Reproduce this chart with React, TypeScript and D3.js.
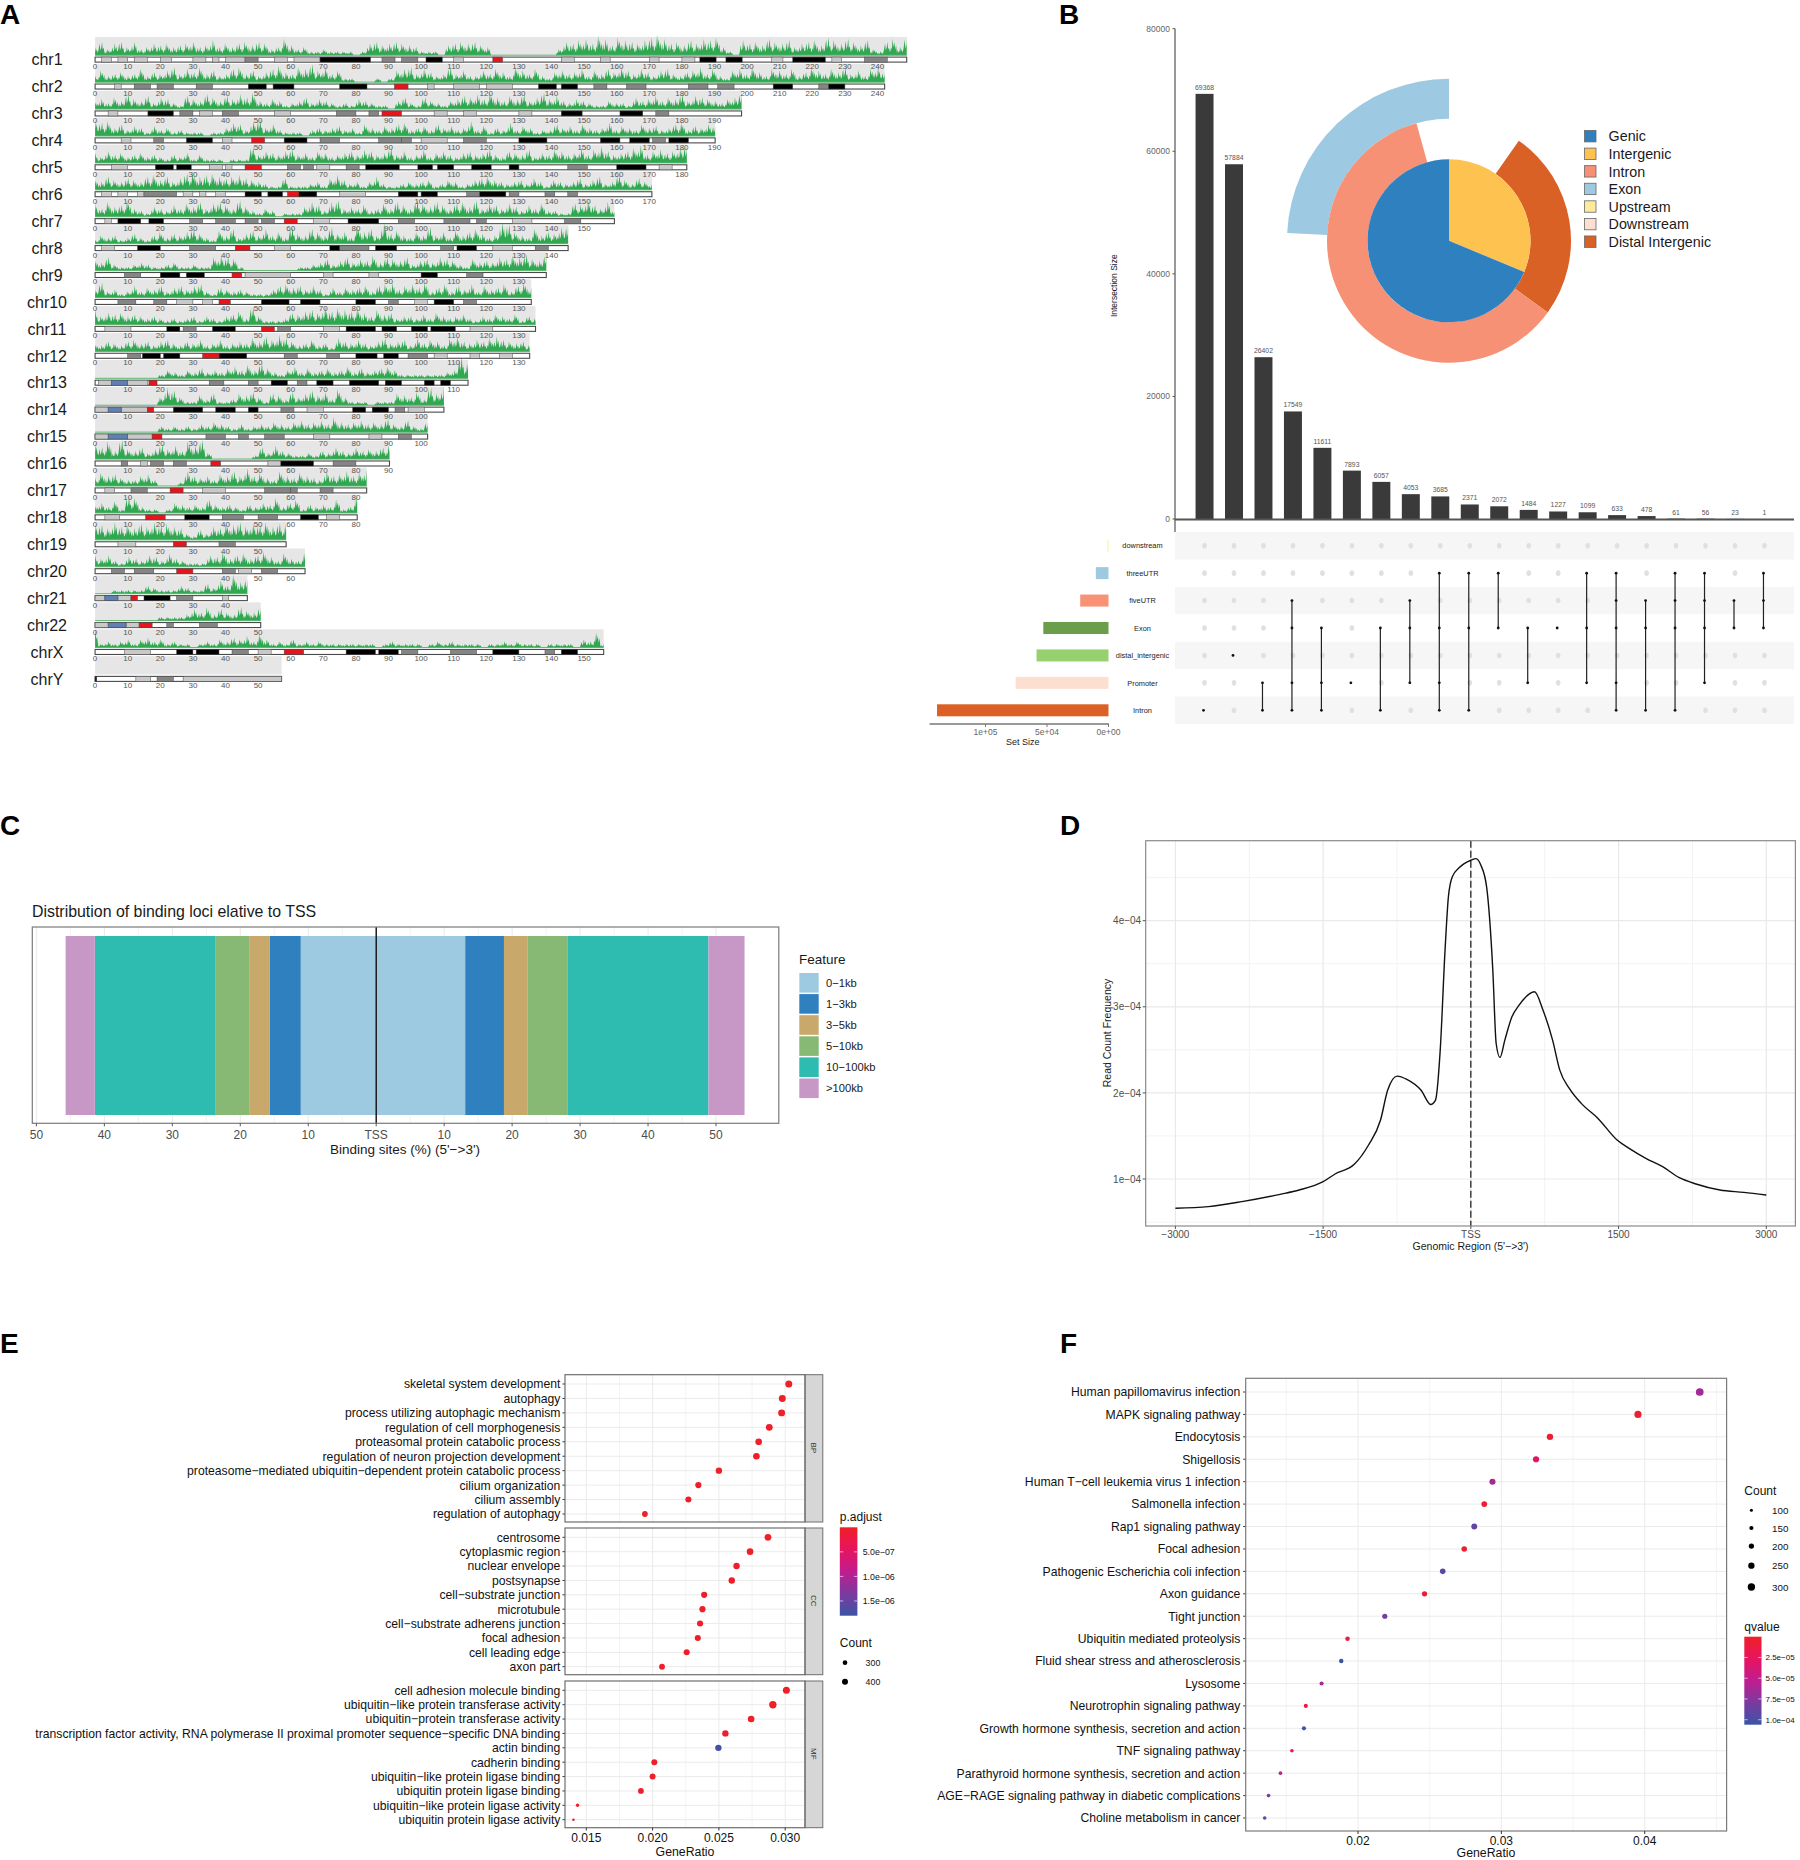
import React from 'react';
import * as d3 from 'd3';

const FONT = '"Liberation Sans", Arial, sans-serif';
const MINUS = '\u2212';

// ---- panel A: karyotype
const chromNames = ['chr1','chr2','chr3','chr4','chr5','chr6','chr7','chr8','chr9','chr10','chr11','chr12','chr13','chr14','chr15','chr16','chr17','chr18','chr19','chr20','chr21','chr22','chrX','chrY'];
const chromLengths = [248.96,242.19,198.3,190.2,181.5,170.8,159.3,145.1,138.4,133.8,135.1,133.3,114.4,107,102,90.3,83.3,80.4,58.6,64.4,46.7,50.8,156,57.2];

// flat start,end pairs in Mb, one list per chromosome
const blackBands = [
  [69,84.5,101.5,106.5,185.5,190.5,193.5,198.5,214,224],
  [47,52.5,54.6,61,75,83.4,136,141.5,143,148,208,214,225,230],
  [16.2,24,143,149.4,161,168],
  [28,36,58,65,130,138.6,155,161,164,170,176,182],
  [18.5,24,25,29.5,83,93.3,99,103.5,105,110,115.5,121.5,127,130,160,169],
  [46,51,53,57.5,62,68,93,99,100,105,118,126],
  [7,14,16.5,21,77.6,87],
  [13,20,72,75,86,92.5,111,117],
  [20,26,28,33.5,100,105],
  [51,59.5,63,69,80,86,104,110],
  [22,26,36,43,77,86,88,92.5,97,102,103,110.5],
  [14.5,20,21,26,38,46.5,80,86.5,88.5,93],
  [54,59,68,73,78,87,89,94,101,104,106,109],
  [24,33,37,43,47,50,79,83,85,90],
  [],
  [57,67],
  [],
  [27.5,35,63,68.5],
  [],
  [],
  [15,23],
  [],
  [25,30,31,38,77,86,87,93,122,130,143,148],
  [0,0.5],
];
const greyBands = [
  [46,50,88,92,94,99,236,243],
  [12,17,19,24,31,36,153,157,163,169,182,188,191,196,222,225],
  [26,30,39,44,74,80,84,87,172,176],
  [18,21,69,75,87,94,94,97,113,120,171,175],
  [59,63,64,67,77,81,145,151],
  [15,25,114,118,127,130,138,141,145,148],
  [29,33,37,43,46,50,51,55,93,98,107,115,117,120,144,149],
  [29,37,75,84,106,110,135,139],
  [9,14,114,119],
  [7,12.5,18,22,90,93,113,117],
  [27,31,56,60],
  [10,14,58,62,71,75,96,102],
  [35,39.5,47,50,62,65],
  [57,61,92,95],
  [34,40,44,47,52,58,93,97],
  [8,10,17,21,24,28,73,80],
  [11,16,52,60,60,62,69,73],
  [39,45.5,50,56],
  [38,43],
  [5,9,12,18,39,43,51,56],
  [25,30],
  [22,24,32,37.5],
  [42,47,94,99,109,117,138,141],
  [19,24],
];
const lightBands = [
  [2,5,7,10,12,16,20,23.5,30,34,36,38,40,46,55,59,61,69,110,113,143,147,155,158,170,173,180,184,207.5,211,226,229],
  [6,8,102,104,110,118,120,128],
  [4,7,32,36,55,60,104,108,113,117,130,134],
  [8,11,39,42,100,108],
  [5,10,35,39,40,42,68,72,173,177],
  [2,5,7,10,13,15,27,30,32,34,37,40,75,83],
  [3,5,67,72,128,134],
  [2,6,55,60,122,128],
  [46,60,70,73,84,87],
  [25,30,33,36,98,102],
  [3,11,70,75,115,122],
  [104,108,115,118,124,128],
  [1,5,10,16],
  [0,4,8,16,65,70,96,101],
  [0,4,10,17.5,67,72,84,88],
  [14,16,53,57],
  [3,6,33,40],
  [3,7.5,71,75],
  [7,12.5],
  [44,48],
  [0,3,7,11,39,41],
  [0,4,9.5,13.5],
  [9,17,50,54],
  [12.5,17,27,57.2],
];
const redBands = [[122,125],[91.8,96],[88,94],[48,52],[46,51],[59,62.5],[58,62],[43,47.5],[42,45],[38,41.5],[51,55],[33,38],[16.5,19],[16,18],[17.5,20.5],[35.5,38.5],[23,27],[15.5,21.5],[24,28],[25,30],[11,13],[13.5,17.5],[58,64],[]];
const blueBands = [[],[],[],[],[],[],[],[],[],[],[],[],[5,10],[4,8],[4,10],[],[],[],[],[],[3,7],[4,9.5],[],[]];

// peak density per chromosome, read along the track (10 = top of the grey strip)
const peakHeights = [
  [3,6,2,5,6,3,6,2,3,5,4,5,3,4,5,6,3,4,7,3,5,3,5,6,4,6,5,2,3,8,4,2,3,1,1,2,1,1,1,1,0,1,5,6,4,5,6,5,4,3,1,1,1,0,4,5,6,5,6,4,3,0,0,0,0,0,0,0,0,0,0,2,6,5,7,8,5,10,8,4,9,7,6,5,7,9,11,8,5,6,4,7,5,8,7,9,3,1,0,7,5,6,4,8,6,5,7,3,5,6,7,4,9,7,5,8,6,4,7,2,1,6,8,3,9],
  [2,5,2,3,4,2,3,6,2,4,3,5,7,3,6,4,7,3,5,2,3,6,7,3,5,2,4,6,8,4,3,7,6,9,5,7,3,5,1,1,0,0,0,1,0,1,5,6,7,3,6,4,2,3,7,3,5,2,2,5,3,6,4,2,7,5,3,6,2,1,4,5,3,4,6,2,5,3,6,4,7,5,3,6,4,2,5,6,3,2,4,5,7,3,6,2,1,5,6,3,7,4,2,6,5,3,6,2,4,7,5,3,6,4,7,3,5,2,6,7,4],
  [3,4,2,5,3,7,4,3,6,2,5,4,2,1,6,4,3,7,5,3,6,4,7,5,8,3,2,4,3,1,2,3,5,2,4,3,2,1,2,1,4,3,2,1,1,0,3,5,2,1,5,3,2,1,3,4,6,5,7,4,8,5,3,6,4,7,3,5,8,4,6,3,2,4,3,2,1,1,3,2,2,1,5,3,4,6,3,5,4,7,3,6,5,4,3,2,4,5,8],
  [8,6,7,3,5,2,4,3,1,4,2,3,1,2,1,1,1,0,1,1,3,6,5,2,7,8,3,5,2,1,1,1,0,2,3,2,3,4,2,3,1,5,3,2,4,3,5,6,2,3,4,2,5,3,4,2,3,7,2,4,1,3,2,6,2,4,3,1,2,2,5,3,4,2,5,3,2,3,6,2,4,3,2,5,3,4,2,3,5,6,2,4,3,5,4],
  [4,2,5,3,4,2,3,4,2,3,2,1,3,2,4,1,3,1,1,1,0,1,1,1,8,3,5,4,3,5,6,3,4,2,5,4,2,3,4,5,3,6,5,3,4,7,3,5,2,3,6,2,4,5,3,2,4,5,3,4,6,3,2,5,4,3,6,2,4,3,6,5,3,4,7,3,6,8,5,3,4,5,7,9,3,5,6,4,5,7,9],
  [5,3,6,4,3,5,4,3,6,7,4,6,3,5,8,9,6,7,8,6,5,6,7,5,4,3,2,1,1,5,1,1,1,2,3,1,5,7,4,2,3,1,3,6,2,1,1,2,3,2,3,4,1,2,4,3,1,2,4,5,6,4,3,2,3,4,2,5,3,1,4,3,2,3,5,2,4,6,2,3,7,4,2,5,3,2],
  [6,3,7,4,5,8,3,2,1,4,3,2,5,3,6,4,7,3,6,7,5,3,8,4,2,1,3,2,0,1,1,1,4,7,5,2,7,8,3,4,3,5,2,3,6,3,7,5,3,8,6,4,7,5,3,6,7,4,8,3,6,5,3,6,4,2,5,3,6,2,2,1,1,6,5,8,5,3,7,2],
  [1,3,2,3,1,2,4,2,1,3,5,2,4,3,5,7,4,2,1,6,3,7,2,4,6,3,7,3,5,2,8,4,3,7,5,3,8,4,5,2,9,5,7,3,11,4,6,3,2,5,3,8,3,5,2,6,3,5,7,4,2,3,12,10,5,3,2,7,3,5,4,8,9],
  [5,3,6,2,1,1,2,3,2,1,1,2,3,1,1,2,1,1,6,7,6,5,1,0,0,0,0,0,0,0,0,1,1,2,3,5,2,4,6,3,5,4,7,3,6,5,4,6,2,4,5,3,6,5,4,2,1,5,3,4,3,6,5,7,6,8,5,4,8],
  [3,7,2,3,1,2,5,2,4,3,5,2,4,5,3,5,6,2,1,4,3,2,3,2,1,1,1,3,5,6,4,5,3,5,3,1,4,2,4,3,4,5,2,5,6,7,3,5,6,4,7,2,4,6,2,5,3,6,2,5,3,4,6,2,5,7,4],
  [7,3,5,4,5,3,4,3,2,3,2,1,2,1,2,3,1,3,2,1,3,4,6,2,9,3,1,1,1,2,5,4,6,7,5,9,6,8,7,6,8,5,3,7,4,5,2,3,3,2,4,2,5,3,2,3,4,2,1,3,2,4,3,2,4,1,3,2],
  [3,2,4,3,2,4,5,3,4,2,4,5,3,2,4,3,5,2,3,5,2,3,4,3,6,4,7,5,8,6,4,2,3,5,2,3,1,6,4,3,5,3,2,4,6,3,4,5,2,6,3,5,4,2,6,7,4,3,5,4,6,7,5,4,3,4,2],
  [0,0,0,0,0,0,0,0,0,0,1,3,2,1,3,2,4,2,3,2,4,5,3,6,3,7,4,2,1,3,5,2,4,2,3,4,2,3,5,2,4,2,3,4,5,3,1,1,1,1,1,1,1,2,3,12,7],
  [0,0,0,0,0,0,0,0,0,0,3,9,7,3,1,1,4,2,5,1,1,2,5,4,6,3,1,5,4,2,6,3,5,7,4,6,2,8,3,1,1,1,0,1,1,1,5,4,3,6,2,9,5,10],
  [0,0,0,0,0,0,0,0,0,0,2,1,2,1,2,1,3,2,4,3,2,1,3,1,2,3,2,4,3,2,4,5,3,4,5,3,7,4,3,4,5,3,4,3,6,3,2,5,2,1,4],
  [8,5,9,3,10,4,3,5,2,4,7,4,6,3,9,6,10,2,0,0,0,0,0,0,1,5,2,6,3,2,1,1,2,1,3,2,5,3,2,5,3,4,3,5,6],
  [3,6,4,5,3,2,2,4,5,2,0,0,0,1,7,4,3,4,2,5,4,7,4,9,4,6,3,2,7,4,3,6,4,3,2,7,4,5,7,4,6,8],
  [3,4,2,5,1,8,7,2,1,1,0,1,4,3,2,3,2,6,3,2,3,2,1,3,2,4,3,7,2,4,6,1,3,2,3,2,6,1,2,8],
  [8,7,5,9,6,7,5,8,6,9,7,8,6,5,2,1,4,2,6,5,8,7,9,6,8,7,9,6,8,7],
  [5,3,5,2,1,4,3,2,5,4,2,6,3,2,1,1,1,5,4,7,3,5,6,3,5,7,4,2,6,3,2,6],
  [0,0,0,1,1,1,1,1,3,2,1,1,1,3,2,1,1,4,2,6,3,10,5,7],
  [0,0,0,0,0,0,0,0,0,0,1,1,1,1,2,5,3,6,2,5,3,2,6,4,3,6],
  [10,1,2,1,2,3,1,3,4,2,3,1,2,1,1,0,1,2,1,3,2,4,3,5,2,6,3,1,2,1,3,1,2,1,2,1,1,1,1,1,1,1,1,0,1,2,1,1,1,1,0,1,2,1,2,1,1,1,1,0,1,1,2,1,2,1,1,1,0,1,1,1,1,0,3,2,7,1],
  [],
];

// ---- panel B: upset
const setNames = ['downstream','threeUTR','fiveUTR','Exon','distal_intergenic','Promoter','Intron'];
const setSizes = [1000,10300,23000,53000,58500,75500,139400];
const setColors = ['#fbf3a4','#9ecae1','#f89274','#6a9e4a','#98cf6f','#fddfd2','#dc6026'];
const intersectionSizes = [69368,57884,26402,17549,11611,7893,6057,4053,3685,2371,2072,1484,1227,1099,633,478,61,56,23,1];
const intersectionMembers = [[6],[4],[5,6],[2,3,5,6],[3,5,6],[5],[3,6],[2,3,5],[1,3,5,6],[1,3,6],[1,3],[3,5],[3],[1,3,5],[1,2,3,5,6],[2,3,6],[1,2,3,6],[1,2,3,5],[2,3],[1,2,3]];
const intersectionTicks = [0,20000,40000,60000,80000];
const setSizeTicks = [0,50000,100000];
const setSizeTickLabels = ['0e+00','5e+04','1e+05'];

// nested pie, percent of a full turn clockwise from 12 o'clock
const innerSlices = [{ name: 'Intergenic', from: 0, to: 31.3, color: '#fdc24f' }, { name: 'Genic', from: 31.3, to: 100, color: '#2f80bf' }];
const middleSlices = [{ name: 'Distal Intergenic', from: 9.7, to: 35, color: '#da6126' }, { name: 'Intron', from: 35, to: 95.7, color: '#f69176' }];
const outerSlices = [{ name: 'Exon', from: 75.75, to: 100, color: '#9dcae2' }];
const annotationNames = ['Genic','Intergenic','Intron','Exon','Upstream','Downstream','Distal Intergenic'];
const annotationColors = ['#2f80bf','#fdc24f','#f69176','#9dcae2','#fbeb9b','#fddfd2','#da6126'];

// ---- panel C: TSS distribution
const featureNames = ['0\u22121kb','1\u22123kb','3\u22125kb','5\u221210kb','10\u2212100kb','>100kb'];
const featureColors = ['#9ecae1','#2f80bf','#c8a86b','#87b874','#2fbcb0','#c798c6'];
const upstreamShare = [11.1,4.6,3.0,5.0,17.7,4.3];
const downstreamShare = [13.1,5.7,3.5,5.9,20.7,5.3];
const percentTicks = [-50,-40,-30,-20,-10,0,10,20,30,40,50];

// ---- panel D: read count profile
const profileX = [-3000,-2665,-2325,-1937,-1743,-1500,-1379,-1184,-1039,-917,-845,-748,-650,-505,-408,-359,-311,-262,-228,-189,-117,0,53,102,160,223,257,296,345,417,490,646,733,830,903,1000,1121,1291,1485,1607,1777,1947,2117,2286,2529,2772,3000];
const profileY = [0.66,0.679,0.737,0.822,0.872,0.969,1.058,1.17,1.395,1.685,2.03,2.195,2.157,2.03,1.866,1.917,2.497,3.658,4.277,4.509,4.617,4.702,4.721,4.644,4.393,3.425,2.574,2.412,2.613,2.884,3.019,3.174,2.961,2.613,2.265,2.052,1.878,1.704,1.453,1.356,1.24,1.143,1.015,0.942,0.872,0.845,0.814];
const regionTicks = [-3000,-1500,0,1500,3000];
const regionMinorTicks = [-2250,-750,750,2250];
const freqTicks = [1,2,3,4];
const freqMinorTicks = [0.5,1.5,2.5,3.5,4.5];

// ---- panel E: GO enrichment
const bpTerms = ['skeletal system development','autophagy','process utilizing autophagic mechanism','regulation of cell morphogenesis','proteasomal protein catabolic process','regulation of neuron projection development','proteasome\u2212mediated ubiquitin\u2212dependent protein catabolic process','cilium organization','cilium assembly','regulation of autophagy'];
const bpRatio = [0.03027,0.02978,0.02973,0.0288,0.028,0.02783,0.025,0.02345,0.0227,0.01942];
const bpCount = [480,475,475,465,455,450,430,420,410,385];
const bpPadj = [1e-8,1e-8,1e-8,2e-8,1e-8,2e-8,1e-8,3e-8,3e-8,4e-8];
const ccTerms = ['centrosome','cytoplasmic region','nuclear envelope','postsynapse','cell\u2212substrate junction','microtubule','cell\u2212substrate adherens junction','focal adhesion','cell leading edge','axon part'];
const ccRatio = [0.0287,0.02735,0.02633,0.02597,0.02389,0.02376,0.02358,0.02341,0.02257,0.02071];
const ccCount = [460,450,440,435,415,415,410,410,405,390];
const ccPadj = [1e-8,2e-8,1e-8,2e-8,2e-8,2e-8,2e-8,2e-8,2e-8,3e-8];
const mfTerms = ['cell adhesion molecule binding','ubiquitin\u2212like protein transferase activity','ubiquitin\u2212protein transferase activity','transcription factor activity, RNA polymerase II proximal promoter sequence\u2212specific DNA binding','actin binding','cadherin binding','ubiquitin\u2212like protein ligase binding','ubiquitin protein ligase binding','ubiquitin\u2212like protein ligase activity','ubiquitin protein ligase activity'];
const mfRatio = [0.03009,0.02907,0.02743,0.02549,0.02496,0.02013,0.02,0.01912,0.01434,0.01403];
const mfCount = [480,510,450,430,430,400,395,385,200,138];
const mfPadj = [1e-8,1e-8,1e-8,2e-8,1.75e-6,3e-8,3e-8,3e-8,4e-8,4e-8];
const goTicks = [0.015,0.02,0.025,0.03];
const goMinorTicks = [0.0175,0.0225,0.0275];
const padjTicks = [5e-7,1e-6,1.5e-6];
const padjTickLabels = ['5.0e\u221207','1.0e\u221206','1.5e\u221206'];
const goCountLegend = [300,400];

// ---- panel F: KEGG enrichment
const keggTerms = ['Human papillomavirus infection','MAPK signaling pathway','Endocytosis','Shigellosis','Human T\u2212cell leukemia virus 1 infection','Salmonella infection','Rap1 signaling pathway','Focal adhesion','Pathogenic Escherichia coli infection','Axon guidance','Tight junction','Ubiquitin mediated proteolysis','Fluid shear stress and atherosclerosis','Lysosome','Neurotrophin signaling pathway','Growth hormone synthesis, secretion and action','TNF signaling pathway','Parathyroid hormone synthesis, secretion and action','AGE\u2212RAGE signaling pathway in diabetic complications','Choline metabolism in cancer'];
const keggRatio = [0.04384,0.03953,0.03339,0.03242,0.02938,0.02881,0.02811,0.02741,0.02591,0.02464,0.02187,0.01927,0.01883,0.01746,0.01636,0.01623,0.01539,0.01459,0.01376,0.01349];
const keggCount = [315,290,255,245,240,225,230,215,215,200,195,165,165,150,145,150,125,125,125,125];
const keggQ = [6.3e-5,0.4e-5,0.5e-5,3e-5,6.3e-5,0.6e-5,9e-5,0.4e-5,9.2e-5,0.8e-5,8.2e-5,1e-5,1.05e-4,6.3e-5,1.2e-5,1.05e-4,3e-5,4.8e-5,8.2e-5,9e-5];
const keggTicks = [0.02,0.03,0.04];
const keggMinorTicks = [0.015,0.025,0.035,0.045];
const qTicks = [2.5e-5,5e-5,7.5e-5,1e-4];
const qTickLabels = ['2.5e\u221205','5.0e\u221205','7.5e\u221205','1.0e\u221204'];
const keggCountLegend = [100,150,200,250,300];
const keggLegendY = [1510.3,1528,1546,1565.7,1587];

const panelLetters = [['A',0,24],['B',1059,24],['C',0,835],['D',1060,835],['E',0,1353],['F',1060,1353]] as const;

const rampColor = d3.scaleLinear<string>().domain([0,0.25,0.5,0.75,1]).range(['#ee2027','#e8135f','#bf1d90','#7c3a9f','#3b54a5']);
const rampStops = d3.range(0, 1.001, 0.1);

// one 2 Mb bin is drawn as a small cluster of spikes
const spikeShapes = [
  [[-0.5,0.14],[-0.36,0.55],[-0.25,0.18],[-0.1,0.3],[0,1],[0.12,0.32],[0.24,0.62],[0.36,0.2]],
  [[-0.5,0.2],[-0.3,0.8],[-0.2,0.22],[-0.05,0.45],[0.06,1],[0.16,0.3],[0.3,0.42],[0.4,0.16]],
  [[-0.5,0.12],[-0.4,0.35],[-0.28,0.2],[-0.14,1],[-0.04,0.35],[0.12,0.7],[0.24,0.2],[0.38,0.5]],
];

function pairsOf(list: number[]) {
  return d3.range(0, list.length, 2).map((i) => [list[i], list[i + 1]]);
}

function ChromPanel() {
  const x = d3.scaleLinear().domain([0, 248.96]).range([95.1, 906.7]);
  const rowY = d3.scalePoint<string>().domain(chromNames).range([59.6, 678.9]);
  const h = d3.scalePow().exponent(0.7).domain([0, 12]).range([0, 22]);
  const bandKinds: [number[][], string][] = [[lightBands, '#c9c9c9'], [greyBands, '#858585'], [blackBands, '#000'], [blueBands, '#5f7fb5'], [redBands, '#e8141c']];
  return (
    <g>
      {chromNames.map((name, i) => {
        const base = (rowY(name) as number) - 4.4;
        const len = chromLengths[i];
        const vals = peakHeights[i];
        const bin = len / Math.max(vals.length - 1, 1);
        const pts = vals.flatMap((v, k) => spikeShapes[(k * 7 + i) % 3].map(([t, f]) => [Math.max(0, Math.min(len, (k + t) * bin)), v * f]));
        const area = d3.area<number[]>().x((d) => x(d[0])).y0(base).y1((d) => base - h(d[1]));
        return (
          <g key={name}>
            <rect x={x(0)} y={base - 18.3} width={x(len) - x(0)} height={18.3} fill="#e6e6e7" />
            {vals.length > 0 && <path d={area(pts) as string} fill="#2fa84f" />}
            {vals.length > 0 && <line x1={x(0)} x2={x(len)} y1={base} y2={base} stroke="#5ab46f" strokeWidth={1} />}
          </g>
        );
      })}
      {chromNames.map((name, i) => {
        const y0 = rowY(name) as number;
        const len = chromLengths[i];
        return (
          <g key={name}>
            <text x={47} y={y0} dy="0.36em" textAnchor="middle" fontSize={16} fill="#1a1a1a">{name}</text>
            <rect x={x(0)} y={y0 - 2.5} width={x(len) - x(0)} height={5} fill="#fff" stroke="#4a4a4a" strokeWidth={1.1} />
            {bandKinds.map(([bands, color]) =>
              pairsOf(bands[i]).map(([a, b]) => (
                <rect key={color + a} x={x(a)} y={y0 - 2.5} width={x(b) - x(a)} height={5} fill={color} stroke="#4a4a4a" strokeWidth={0.5} />
              ))
            )}
            {d3.range(0, len + 0.001, 10).map((t) => (
              <text key={t} x={x(t)} y={y0 + 6.6} dy="0.36em" textAnchor="middle" fontSize={8} fill="#555">{t}</text>
            ))}
          </g>
        );
      })}
    </g>
  );
}

function UpsetPanel() {
  const y = d3.scaleLinear().domain([0, 80000]).range([519, 28.7]);
  const band = d3.scaleBand<number>().domain(d3.range(intersectionSizes.length)).range([1189.8, 1779.2]).paddingInner(0.39).paddingOuter(0.195);
  const rowY = d3.scalePoint<string>().domain(setNames).range([545.7, 710.3]);
  const rowStep = 27.43;
  const setX = d3.scaleLinear().domain([0, 100000]).range([1108.5, 985.5]);
  const arcOf = (inner: number, outer: number) => d3.arc<any>().innerRadius(inner).outerRadius(outer).startAngle((d) => (d.from / 100) * 2 * Math.PI).endAngle((d) => (d.to / 100) * 2 * Math.PI);
  const innerArc = arcOf(0, 81.5);
  const middleArc = arcOf(81.5, 122);
  const outerArc = arcOf(122, 162);
  return (
    <g>
      <line x1={1175} x2={1175} y1={28.7} y2={532} stroke="#333" strokeWidth={1} />
      {intersectionTicks.map((t) => (
        <g key={t}>
          <line x1={1172.5} x2={1175} y1={y(t)} y2={y(t)} stroke="#555" />
          <text x={1170} y={y(t)} dy="0.36em" textAnchor="end" fontSize={8.5} fill="#666">{t}</text>
        </g>
      ))}
      <text transform="translate(1113.6,285.7) rotate(-90)" dy="0.36em" textAnchor="middle" fontSize={8.5} fill="#222">Intersection Size</text>
      {intersectionSizes.map((v, i) => {
        const bx = band(i) as number;
        return (
          <g key={i}>
            <rect x={bx} y={y(v)} width={band.bandwidth()} height={y(0) - y(v)} fill="#3a3a3a" />
            <text x={bx + band.bandwidth() / 2} y={y(v) - 6.5} dy="0.36em" textAnchor="middle" fontSize={6.8} fill="#555">{v}</text>
          </g>
        );
      })}
      <line x1={1175} x2={1794} y1={519.5} y2={519.5} stroke="#555" strokeWidth={2} />

      {setNames.map((s, r) => (
        <g key={s}>
          {r % 2 === 0 && <rect x={1175} y={(rowY(s) as number) - rowStep / 2} width={619} height={rowStep} fill="#f6f6f6" />}
          <rect x={setX(setSizes[r])} y={(rowY(s) as number) - 6} width={setX(0) - setX(setSizes[r])} height={12} fill={setColors[r]} />
          <text x={1142.5} y={rowY(s)} dy="0.36em" textAnchor="middle" fontSize={7.4} fill="#222">{s}</text>
        </g>
      ))}
      {intersectionMembers.map((members, c) => {
        const cx = (band(c) as number) + band.bandwidth() / 2;
        const ys = members.map((m) => rowY(setNames[m]) as number);
        return (
          <g key={c}>
            {setNames.map((s, r) => !members.includes(r) && (
              <ellipse key={s} cx={cx} cy={rowY(s)} rx={2.3} ry={2.8} fill="#e0e0e0" />
            ))}
            {members.length > 1 && <line x1={cx - 1} x2={cx - 1} y1={d3.min(ys)} y2={d3.max(ys)} stroke="#222" strokeWidth={1.2} />}
            {ys.map((yy) => <circle key={yy} cx={cx - 1} cy={yy} r={1.4} fill="#111" />)}
          </g>
        );
      })}
      <line x1={929.5} x2={1109} y1={724} y2={724} stroke="#777" strokeWidth={1.5} />
      {setSizeTicks.map((t, i) => (
        <g key={t}>
          <line x1={setX(t)} x2={setX(t)} y1={724} y2={727} stroke="#777" />
          <text x={setX(t)} y={731.7} dy="0.36em" textAnchor="middle" fontSize={8.5} fill="#666">{setSizeTickLabels[i]}</text>
        </g>
      ))}
      <text x={1022.7} y={741.7} dy="0.36em" textAnchor="middle" fontSize={9} fill="#222">Set Size</text>

      <g transform="translate(1449,240.7)">
        {outerSlices.map((d) => <path key={d.name} d={outerArc(d) as string} fill={d.color} />)}
        {middleSlices.map((d) => <path key={d.name} d={middleArc(d) as string} fill={d.color} />)}
        {innerSlices.map((d) => <path key={d.name} d={innerArc(d) as string} fill={d.color} />)}
      </g>
      {annotationNames.map((n, i) => {
        const ly = 136.2 + i * 17.58;
        return (
          <g key={n}>
            <rect x={1584.6} y={ly - 5.7} width={11.4} height={11.4} fill={annotationColors[i]} stroke="#666" strokeWidth={0.8} />
            <text x={1608.6} y={ly} dy="0.36em" fontSize={14.3} fill="#1a1a1a">{n}</text>
          </g>
        );
      })}
    </g>
  );
}

function TssPanel() {
  const x = d3.scaleLinear().domain([-50, 50]).range([36.4, 716]);
  const top = 927;
  const bottom = 1123.3;
  const cumLeft = d3.cumsum(upstreamShare);
  const cumRight = d3.cumsum(downstreamShare);
  return (
    <g>
      <text x={32} y={917} fontSize={15.9} fill="#1a1a1a">Distribution of binding loci elative to TSS</text>
      {d3.range(-50, 51, 5).map((t) => (
        <line key={t} x1={x(t)} x2={x(t)} y1={top} y2={bottom} stroke={t % 10 === 0 ? '#e9e9e9' : '#f3f3f3'} />
      ))}
      {featureNames.map((f, i) => (
        <g key={f}>
          <rect x={x(-cumLeft[i])} y={936} width={x(-(cumLeft[i] - upstreamShare[i])) - x(-cumLeft[i])} height={179} fill={featureColors[i]} />
          <rect x={x(cumRight[i] - downstreamShare[i])} y={936} width={x(cumRight[i]) - x(cumRight[i] - downstreamShare[i])} height={179} fill={featureColors[i]} />
        </g>
      ))}
      <line x1={x(0)} x2={x(0)} y1={top} y2={bottom} stroke="#000" strokeWidth={1.3} />
      <rect x={32.3} y={top} width={746.5} height={bottom - top} fill="none" stroke="#7a7a7a" strokeWidth={1.2} />
      {percentTicks.map((t) => (
        <g key={t}>
          <line x1={x(t)} x2={x(t)} y1={bottom} y2={bottom + 3} stroke="#555" />
          <text x={x(t)} y={1134.5} dy="0.36em" textAnchor="middle" fontSize={12} fill="#4d4d4d">{t === 0 ? 'TSS' : Math.abs(t)}</text>
        </g>
      ))}
      <text x={405} y={1149.5} dy="0.36em" textAnchor="middle" fontSize={13.5} fill="#1a1a1a">{"Binding sites (%) (5'\u2212>3')"}</text>
      <text x={799} y={959} dy="0.36em" fontSize={13.5} fill="#1a1a1a">Feature</text>
      {featureNames.map((f, i) => (
        <g key={f}>
          <rect x={799.3} y={973 + i * 21.1} width={19.4} height={19.6} fill={featureColors[i]} />
          <text x={826} y={982.8 + i * 21.1} dy="0.36em" fontSize={11.2} fill="#1a1a1a">{f}</text>
        </g>
      ))}
    </g>
  );
}

function ProfilePanel() {
  const x = d3.scaleLinear().domain([-3000, 3000]).range([1175.4, 1766.3]);
  const y = d3.scaleLinear().domain([1, 4]).range([1179, 920.7]);
  const left = 1145.7;
  const right = 1795.4;
  const top = 840.7;
  const bottom = 1226;
  const line = d3.line<number>().x((_, i) => x(profileX[i])).y((d) => y(d)).curve(d3.curveMonotoneX);
  return (
    <g>
      {freqMinorTicks.map((t) => <line key={t} x1={left} x2={right} y1={y(t)} y2={y(t)} stroke="#f3f3f3" />)}
      {regionMinorTicks.map((t) => <line key={t} x1={x(t)} x2={x(t)} y1={top} y2={bottom} stroke="#f3f3f3" />)}
      {freqTicks.map((t) => <line key={t} x1={left} x2={right} y1={y(t)} y2={y(t)} stroke="#e9e9e9" strokeWidth={1.2} />)}
      {regionTicks.map((t) => <line key={t} x1={x(t)} x2={x(t)} y1={top} y2={bottom} stroke="#e9e9e9" strokeWidth={1.2} />)}
      <line x1={x(0)} x2={x(0)} y1={top} y2={bottom} stroke="#000" strokeWidth={1.1} strokeDasharray="7 3" />
      <path d={line(profileY) as string} fill="none" stroke="#111" strokeWidth={1.4} />
      <rect x={left} y={top} width={right - left} height={bottom - top} fill="none" stroke="#8a8a8a" strokeWidth={1.2} />
      {regionTicks.map((t) => (
        <g key={t}>
          <line x1={x(t)} x2={x(t)} y1={bottom} y2={bottom + 3} stroke="#555" />
          <text x={x(t)} y={1234.5} dy="0.36em" textAnchor="middle" fontSize={10} fill="#4d4d4d">{t === 0 ? 'TSS' : String(t).replace('-', MINUS)}</text>
        </g>
      ))}
      {freqTicks.map((t) => (
        <g key={t}>
          <line x1={left - 3} x2={left} y1={y(t)} y2={y(t)} stroke="#555" />
          <text x={left - 4.5} y={y(t)} dy="0.36em" textAnchor="end" fontSize={10} fill="#4d4d4d">{`${t}e\u221204`}</text>
        </g>
      ))}
      <text x={1470.6} y={1246.7} dy="0.36em" textAnchor="middle" fontSize={10.5} fill="#1a1a1a">{"Genomic Region (5'\u2212>3')"}</text>
      <text transform="translate(1107.4,1033) rotate(-90)" dy="0.36em" textAnchor="middle" fontSize={10.5} fill="#1a1a1a">Read Count Frequency</text>
    </g>
  );
}

function GoFacet({ terms, ratio, count, padj, top, bottom, strip, x, r, color }: any) {
  const rowY = d3.scalePoint<string>().domain(terms).range([top + 9.3, bottom - 8]);
  return (
    <g>
      {goMinorTicks.map((t) => <line key={t} x1={x(t)} x2={x(t)} y1={top} y2={bottom} stroke="#f4f4f4" />)}
      {goTicks.map((t) => <line key={t} x1={x(t)} x2={x(t)} y1={top} y2={bottom} stroke="#ebebeb" />)}
      {terms.map((term: string, i: number) => (
        <g key={term}>
          <line x1={565} x2={805} y1={rowY(term)} y2={rowY(term)} stroke="#ebebeb" />
          <line x1={562.5} x2={565} y1={rowY(term)} y2={rowY(term)} stroke="#333" />
          <text x={560.4} y={rowY(term)} dy="0.36em" textAnchor="end" fontSize={12.2} fill="#111">{term}</text>
          <circle cx={x(ratio[i])} cy={rowY(term)} r={r(count[i])} fill={color(padj[i])} />
        </g>
      ))}
      <rect x={805} y={top} width={17.8} height={bottom - top} fill="#d6d6d6" stroke="#6e6e6e" strokeWidth={1} />
      <rect x={565} y={top} width={240} height={bottom - top} fill="none" stroke="#6e6e6e" strokeWidth={1.2} />
      <text transform={`translate(813.6,${(top + bottom) / 2 - 0.5}) rotate(90)`} dy="0.36em" textAnchor="middle" fontSize={8} fill="#333">{strip}</text>
    </g>
  );
}

function GoPanel() {
  const x = d3.scaleLinear().domain([0.015, 0.03]).range([586.3, 785.2]);
  const r = d3.scaleLinear().domain([138, 510]).range([1.3, 3.7]);
  const padjY = d3.scaleLinear().domain([0, 1.8e-6]).range([1527.3, 1615.7]);
  const color = (v: number) => rampColor(v / 1.8e-6);
  return (
    <g>
      <defs>
        <linearGradient id="padjRamp" x1="0" x2="0" y1="0" y2="1">
          {rampStops.map((s) => <stop key={s} offset={s} stopColor={rampColor(s)} />)}
        </linearGradient>
      </defs>
      <GoFacet terms={bpTerms} ratio={bpRatio} count={bpCount} padj={bpPadj} top={1374.7} bottom={1522} strip="BP" x={x} r={r} color={color} />
      <GoFacet terms={ccTerms} ratio={ccRatio} count={ccCount} padj={ccPadj} top={1528} bottom={1674.7} strip="CC" x={x} r={r} color={color} />
      <GoFacet terms={mfTerms} ratio={mfRatio} count={mfCount} padj={mfPadj} top={1681} bottom={1827.7} strip="MF" x={x} r={r} color={color} />
      {goTicks.map((t) => (
        <g key={t}>
          <line x1={x(t)} x2={x(t)} y1={1827.7} y2={1830.5} stroke="#333" />
          <text x={x(t)} y={1837.5} dy="0.36em" textAnchor="middle" fontSize={12} fill="#111">{t.toFixed(3)}</text>
        </g>
      ))}
      <text x={685} y={1852} dy="0.36em" textAnchor="middle" fontSize={12.3} fill="#111">GeneRatio</text>
      <text x={839.8} y={1517} dy="0.36em" fontSize={12} fill="#111">p.adjust</text>
      <rect x={839.8} y={1527.3} width={17.6} height={88.4} fill="url(#padjRamp)" />
      {padjTicks.map((t, i) => (
        <g key={t}>
          <line x1={839.8} x2={843.3} y1={padjY(t)} y2={padjY(t)} stroke="#fff" strokeOpacity={0.6} />
          <line x1={853.9} x2={857.4} y1={padjY(t)} y2={padjY(t)} stroke="#fff" strokeOpacity={0.6} />
          <text x={862.7} y={padjY(t)} dy="0.36em" fontSize={8.8} fill="#111">{padjTickLabels[i]}</text>
        </g>
      ))}
      <text x={839.8} y={1643} dy="0.36em" fontSize={12} fill="#111">Count</text>
      {goCountLegend.map((c, i) => (
        <g key={c}>
          <circle cx={845} cy={1662.7 + i * 19} r={r(c)} fill="#000" />
          <text x={865.6} y={1662.7 + i * 19} dy="0.36em" fontSize={8.8} fill="#111">{c}</text>
        </g>
      ))}
    </g>
  );
}

function KeggPanel() {
  const x = d3.scaleLinear().domain([0.02, 0.04]).range([1358, 1644.7]);
  const rowY = d3.scalePoint<string>().domain(keggTerms).range([1392, 1818]);
  const r = d3.scaleLinear().domain([100, 300]).range([1.55, 3.7]);
  const qY = d3.scaleLinear().domain([0, 1.06e-4]).range([1636.7, 1724.7]);
  const color = (v: number) => rampColor(v / 1.06e-4);
  const left = 1245.7;
  const right = 1726.6;
  const top = 1378.3;
  const bottom = 1831;
  return (
    <g>
      <defs>
        <linearGradient id="qRamp" x1="0" x2="0" y1="0" y2="1">
          {rampStops.map((s) => <stop key={s} offset={s} stopColor={rampColor(s)} />)}
        </linearGradient>
      </defs>
      {keggMinorTicks.map((t) => <line key={t} x1={x(t)} x2={x(t)} y1={top} y2={bottom} stroke="#f4f4f4" />)}
      {keggTicks.map((t) => <line key={t} x1={x(t)} x2={x(t)} y1={top} y2={bottom} stroke="#ebebeb" />)}
      {keggTerms.map((term, i) => (
        <g key={term}>
          <line x1={left} x2={right} y1={rowY(term)} y2={rowY(term)} stroke="#ebebeb" />
          <line x1={left - 2.5} x2={left} y1={rowY(term)} y2={rowY(term)} stroke="#333" />
          <text x={1240.4} y={rowY(term)} dy="0.36em" textAnchor="end" fontSize={12.2} fill="#111">{term}</text>
          <circle cx={x(keggRatio[i])} cy={rowY(term)} r={r(keggCount[i])} fill={color(keggQ[i])} />
        </g>
      ))}
      <rect x={left} y={top} width={right - left} height={bottom - top} fill="none" stroke="#7a7a7a" strokeWidth={1.2} />
      {keggTicks.map((t) => (
        <g key={t}>
          <line x1={x(t)} x2={x(t)} y1={bottom} y2={bottom + 3} stroke="#333" />
          <text x={x(t)} y={1841} dy="0.36em" textAnchor="middle" fontSize={12} fill="#111">{t.toFixed(2)}</text>
        </g>
      ))}
      <text x={1486} y={1852.5} dy="0.36em" textAnchor="middle" fontSize={12.3} fill="#111">GeneRatio</text>
      <text x={1744.3} y={1491} dy="0.36em" fontSize={12} fill="#111">Count</text>
      {keggCountLegend.map((c, i) => (
        <g key={c}>
          <circle cx={1751.4} cy={keggLegendY[i]} r={r(c)} fill="#000" />
          <text x={1772} y={keggLegendY[i]} dy="0.36em" fontSize={9.8} fill="#111">{c}</text>
        </g>
      ))}
      <text x={1744.3} y={1626.3} dy="0.36em" fontSize={12} fill="#111">qvalue</text>
      <rect x={1744.3} y={1636.7} width={17.2} height={88} fill="url(#qRamp)" />
      {qTicks.map((t, i) => (
        <g key={t}>
          <line x1={1744.3} x2={1747.7} y1={qY(t)} y2={qY(t)} stroke="#fff" strokeOpacity={0.6} />
          <line x1={1758.1} x2={1761.5} y1={qY(t)} y2={qY(t)} stroke="#fff" strokeOpacity={0.6} />
          <text x={1765.5} y={qY(t)} dy="0.36em" fontSize={8} fill="#111">{qTickLabels[i]}</text>
        </g>
      ))}
    </g>
  );
}

export default function App() {
  return (
    <svg width={1800} height={1860} viewBox="0 0 1800 1860" style={{ position: 'absolute', left: 0, top: 0, background: '#fff', fontFamily: FONT }}>
      <ChromPanel />
      <UpsetPanel />
      <TssPanel />
      <ProfilePanel />
      <GoPanel />
      <KeggPanel />
      {panelLetters.map(([letter, x, y]) => (
        <text key={letter} x={x} y={y} fontSize={28} fontWeight="bold" fill="#000">{letter}</text>
      ))}
    </svg>
  );
}
